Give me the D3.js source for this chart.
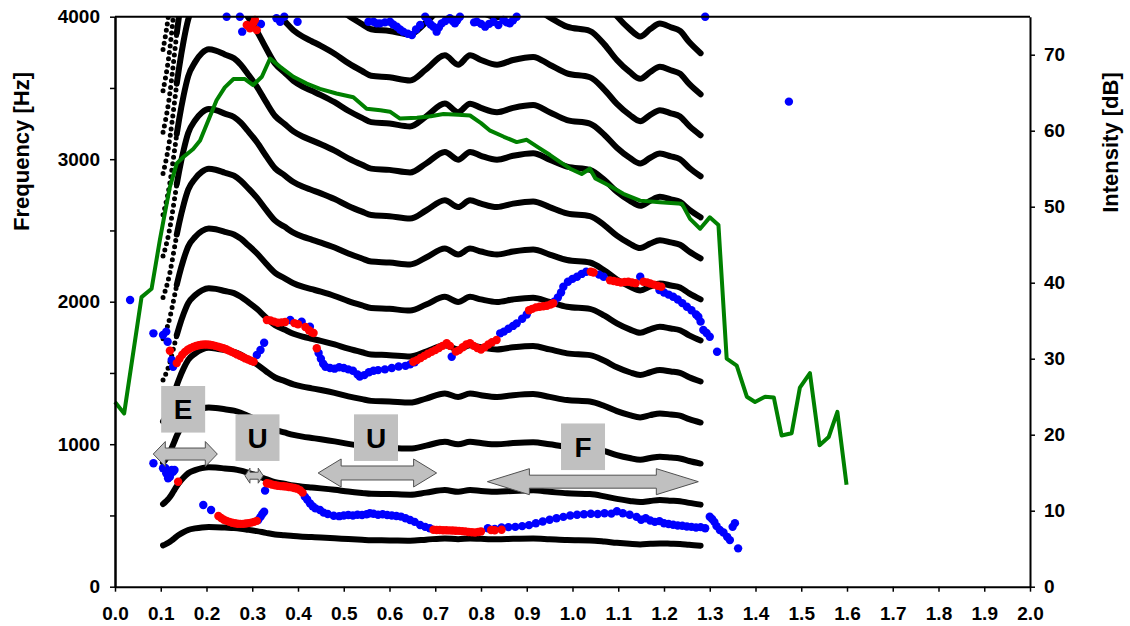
<!DOCTYPE html>
<html>
<head>
<meta charset="utf-8">
<script src="https://cdn.jsdelivr.net/npm/d3@7"></script>
<style>
  body { margin: 0; background: #fff; }
  text { font-family: "Liberation Sans", Arial, sans-serif; font-weight: bold; fill: #000; }
</style>
</head>
<body>
<svg id="chart" width="1130" height="626"></svg>
<script>
// ---- axis ticks ----
const timeTicks = [0.0, 0.1, 0.2, 0.3, 0.4, 0.5, 0.6, 0.7, 0.8, 0.9, 1.0, 1.1, 1.2, 1.3, 1.4, 1.5, 1.6, 1.7, 1.8, 1.9, 2.0];
const freqTicks = [0, 1000, 2000, 3000, 4000];
const freqMinorTicks = [500, 1500, 2500, 3500];
const dbTicks = [0, 10, 20, 30, 40, 50, 60, 70];

// ---- fundamental frequency (s, Hz); harmonic k is drawn at k * f0 ----
const f0Time = [0.105, 0.110, 0.115, 0.120, 0.125, 0.130, 0.135, 0.140, 0.150, 0.160, 0.175, 0.190, 0.205, 0.220, 0.240, 0.260, 0.275, 0.290, 0.310, 0.330, 0.350, 0.370, 0.390, 0.410, 0.430, 0.450, 0.480, 0.510, 0.540, 0.560, 0.600, 0.645, 0.680, 0.721, 0.750, 0.776, 0.800, 0.835, 0.870, 0.914, 0.950, 0.988, 1.038, 1.070, 1.097, 1.125, 1.148, 1.170, 1.191, 1.215, 1.235, 1.255, 1.280];
const f0Hz   = [290, 297, 305, 315, 327, 340, 353, 364, 383, 398, 409, 416, 419, 418, 415, 412, 407, 400, 390, 378, 367, 361, 355, 351, 348, 345, 340, 334, 329, 326, 325, 323, 330, 339, 333, 339, 336, 333, 336, 338, 333, 327.5, 325, 317, 308, 301, 297, 301, 304, 302, 300, 294, 288];
const harmonicNumbers = [1, 2, 3, 4, 5, 6, 7, 8, 9, 10, 11, 12, 13];
const onsetEnd = 0.135;         // steep onset, shown as separated samples
const firstDottedHarmonic = 5;

// ---- intensity (s, dB) ----
const intensity = [
  [0.000, 24.3], [0.020, 22.8], [0.058, 38.1], [0.080, 39.2], [0.098, 45.6], [0.106, 48.2], [0.120, 52.6],
  [0.135, 55.7], [0.149, 56.5], [0.171, 57.6], [0.186, 58.7], [0.205, 61.5], [0.222, 64.0], [0.240, 65.7],
  [0.259, 66.8], [0.284, 66.8], [0.302, 66.0], [0.321, 67.1], [0.339, 69.5], [0.361, 68.4], [0.390, 67.1],
  [0.419, 66.2], [0.448, 65.5], [0.484, 64.9], [0.521, 64.4], [0.550, 62.9], [0.580, 62.7], [0.601, 62.5],
  [0.623, 61.6], [0.660, 61.7], [0.690, 61.9], [0.718, 62.2], [0.750, 62.1], [0.776, 62.0], [0.800, 61.0],
  [0.820, 60.0], [0.850, 59.2], [0.878, 58.5], [0.900, 58.8], [0.925, 57.8], [0.951, 56.8], [0.975, 55.8],
  [0.995, 55.0], [1.020, 54.3], [1.038, 55.0], [1.050, 53.7], [1.080, 52.8], [1.111, 51.7], [1.148, 50.8],
  [1.191, 50.6], [1.239, 50.4], [1.257, 48.4], [1.279, 47.1], [1.300, 48.6], [1.319, 47.6], [1.337, 30.0],
  [1.359, 29.1], [1.381, 25.0], [1.399, 24.3], [1.421, 25.0], [1.440, 24.9], [1.457, 19.9], [1.479, 20.2],
  [1.497, 26.2], [1.519, 28.1], [1.540, 18.6], [1.560, 19.7], [1.579, 23.0], [1.599, 13.4]
];

// ---- formant estimates (s, Hz) ----
const blueTrack = [
  [0.033, 2012], [1.473, 3404],
  [0.084, 866], [0.105, 831], [0.110, 833], [0.112, 796], [0.116, 761], [0.120, 772], [0.124, 819], [0.127, 807], [0.130, 819],
  [0.193, 573], [0.210, 538],
  [0.313, 468], [0.318, 490], [0.322, 510], [0.326, 526], [0.328, 674],
  [0.415, 632], [0.420, 612], [0.426, 585], [0.432, 565], [0.438, 550], [0.448, 538], [0.456, 520], [0.465, 510],
  [0.478, 498], [0.490, 495], [0.500, 500], [0.510, 503], [0.520, 500], [0.530, 505], [0.540, 503], [0.550, 508],
  [0.557, 515], [0.565, 512], [0.575, 505], [0.585, 508], [0.595, 503], [0.605, 500], [0.615, 496], [0.625, 492],
  [0.635, 480], [0.645, 468], [0.655, 455], [0.667, 433], [0.678, 420], [0.688, 410],
  [0.815, 410], [0.830, 405], [0.845, 415], [0.860, 418], [0.875, 420], [0.890, 425], [0.905, 432], [0.920, 445],
  [0.935, 458], [0.950, 470], [0.965, 480], [0.980, 490], [0.995, 500], [1.010, 505], [1.025, 508], [1.040, 512],
  [1.055, 510], [1.070, 515], [1.085, 513], [1.097, 530], [1.110, 515], [1.125, 505], [1.140, 490], [1.150, 470],
  [1.160, 480], [1.170, 465], [1.180, 455], [1.190, 460], [1.200, 445], [1.210, 440], [1.220, 435], [1.230, 430],
  [1.240, 428], [1.250, 422], [1.260, 420], [1.270, 415], [1.280, 418], [1.290, 410], [1.300, 491], [1.305, 475],
  [1.310, 455], [1.315, 425], [1.322, 398], [1.330, 380], [1.338, 350], [1.344, 327], [1.350, 420], [1.355, 446], [1.362, 269],
  [0.084, 1778], [0.105, 1766], [0.112, 1790], [0.115, 1719], [0.124, 1591], [0.127, 1544],
  [0.310, 1626], [0.318, 1661], [0.326, 1712],
  [0.383, 1872], [0.408, 1860], [0.426, 1825],
  [0.445, 1640], [0.450, 1600], [0.455, 1565], [0.460, 1544], [0.470, 1535], [0.480, 1530], [0.490, 1540],
  [0.500, 1535], [0.510, 1525], [0.520, 1515], [0.530, 1490], [0.535, 1474], [0.545, 1485], [0.555, 1505],
  [0.565, 1515], [0.575, 1520], [0.590, 1525], [0.605, 1535], [0.620, 1545], [0.635, 1550], [0.645, 1560], [0.655, 1575],
  [0.736, 1614],
  [0.842, 1778], [0.850, 1790], [0.860, 1810], [0.870, 1830], [0.878, 1848], [0.890, 1880], [0.900, 1910],
  [0.960, 2000], [0.968, 2030], [0.975, 2065], [0.980, 2105], [0.990, 2140], [1.000, 2160], [1.010, 2175],
  [1.020, 2195], [1.030, 2210], [1.058, 2190], [1.068, 2175], [1.148, 2175],
  [1.190, 2082], [1.200, 2065], [1.210, 2050], [1.220, 2035], [1.230, 2015], [1.240, 1990], [1.250, 1965],
  [1.260, 1940], [1.270, 1910], [1.275, 1895], [1.280, 1860], [1.286, 1801], [1.293, 1780], [1.300, 1754], [1.316, 1649],
  [0.244, 4000], [0.273, 4000], [0.278, 3895], [0.319, 3949], [0.353, 3989], [0.361, 3965], [0.370, 4000], [0.399, 3965],
  [0.554, 3965], [0.565, 3965], [0.572, 3953], [0.579, 3953], [0.590, 3960], [0.601, 3965], [0.608, 3945], [0.616, 3930],
  [0.623, 3910], [0.630, 3895], [0.640, 3880], [0.649, 3871], [0.658, 3910], [0.667, 3942], [0.678, 4000], [0.685, 3965],
  [0.690, 3945], [0.696, 3930], [0.703, 3895], [0.708, 3925], [0.714, 3953], [0.722, 3970], [0.732, 3989], [0.738, 3970],
  [0.743, 3953], [0.748, 3975], [0.754, 4000], [0.785, 3960], [0.791, 3965], [0.800, 3950], [0.809, 3930], [0.818, 3950],
  [0.827, 3965], [0.838, 3942], [0.849, 3977], [0.856, 3960], [0.863, 3953], [0.870, 3975], [0.878, 4000], [1.290, 4000]
];
const redTrack = [
  [0.120, 1656], [0.138, 737],
  [0.135, 1569], [0.141, 1600], [0.147, 1628], [0.153, 1648], [0.159, 1663], [0.165, 1674], [0.171, 1682], [0.177, 1689],
  [0.183, 1694], [0.189, 1698], [0.195, 1700], [0.201, 1700], [0.207, 1698], [0.213, 1695], [0.219, 1690], [0.225, 1685],
  [0.231, 1679], [0.237, 1673], [0.243, 1666], [0.249, 1657], [0.255, 1648], [0.261, 1639], [0.267, 1630], [0.273, 1621],
  [0.279, 1612], [0.285, 1602], [0.291, 1594], [0.297, 1586], [0.303, 1579],
  [0.226, 496], [0.232, 482], [0.238, 470], [0.244, 462], [0.250, 455], [0.256, 449], [0.262, 445], [0.268, 442],
  [0.274, 441], [0.280, 441], [0.286, 443], [0.292, 446], [0.298, 450], [0.304, 455], [0.310, 462],
  [0.332, 726], [0.338, 722], [0.344, 716], [0.350, 712], [0.356, 708], [0.362, 706], [0.368, 705], [0.374, 703],
  [0.380, 700], [0.386, 697], [0.392, 693], [0.398, 688], [0.404, 678], [0.410, 660],
  [0.332, 1872], [0.340, 1868], [0.348, 1860], [0.356, 1852], [0.364, 1855], [0.372, 1858], [0.392, 1850], [0.400, 1842],
  [0.416, 1822], [0.424, 1800], [0.430, 1785], [0.434, 1780], [0.441, 1673],
  [0.652, 1579], [0.660, 1590], [0.668, 1605], [0.676, 1620], [0.684, 1635], [0.692, 1648], [0.700, 1660], [0.708, 1675],
  [0.716, 1690], [0.725, 1708], [0.732, 1690], [0.745, 1650], [0.752, 1660], [0.760, 1680], [0.768, 1700], [0.776, 1708],
  [0.784, 1690], [0.792, 1675], [0.800, 1665], [0.808, 1680], [0.816, 1700], [0.824, 1715], [0.834, 1731],
  [0.696, 400], [0.703, 398], [0.710, 398], [0.717, 396], [0.724, 396], [0.731, 395], [0.738, 394], [0.745, 393],
  [0.752, 392], [0.759, 390], [0.766, 388], [0.773, 384], [0.780, 382], [0.787, 380], [0.794, 384], [0.800, 388],
  [0.822, 398], [0.830, 396], [0.845, 400],
  [0.905, 1940], [0.912, 1950], [0.920, 1960], [0.928, 1965], [0.936, 1968], [0.944, 1972], [0.952, 1980], [0.958, 1989],
  [1.040, 2210], [1.046, 2205], [1.082, 2150], [1.090, 2145], [1.098, 2140], [1.106, 2135], [1.114, 2138], [1.122, 2140],
  [1.130, 2135], [1.138, 2130], [1.155, 2140], [1.163, 2135], [1.170, 2128], [1.178, 2120], [1.186, 2112], [1.194, 2105],
  [0.288, 3942], [0.295, 3918], [0.302, 3953], [0.306, 3977], [0.310, 3906]
];

// ---- segment annotations ----
const segmentLabels = ["E", "U", "U", "F"];
const labelTime = [0.149, 0.3115, 0.5705, 1.023];
const labelFreq = [1245, 1046, 1046, 982];
const arrowFrom = [0.0837, 0.284, 0.444, 0.814];
const arrowTo   = [0.2236, 0.324, 0.703, 1.275];
const arrowFreq = [931, 779, 798, 737];

// ---- layout ----
const plotLeft = 115, plotRight = 1030, plotTop = 16.7, plotBottom = 586.7;
const svg = d3.select("#chart");

const x = d3.scaleLinear().domain([0, 2]).range([plotLeft, plotRight]);
const y = d3.scaleLinear().domain([0, 4000]).range([plotBottom, plotTop]);
const yDb = d3.scaleLinear().domain([0, 75]).range([plotBottom, plotTop]);

svg.append("defs").append("clipPath").attr("id", "plotClip")
  .append("rect").attr("x", plotLeft).attr("y", plotTop)
  .attr("width", plotRight - plotLeft).attr("height", plotBottom - plotTop);

// ---- harmonics ----
const harmonicLine = d3.line().x(d => x(d.t)).y(d => y(d.f)).curve(d3.curveMonotoneX);
const gHarm = svg.append("g").attr("clip-path", "url(#plotClip)");
harmonicNumbers.forEach(k => {
  const pts = f0Time.map((t, i) => ({ t, f: f0Hz[i] * k }));
  const dotted = k >= firstDottedHarmonic;
  const solidPts = dotted ? pts.filter(p => p.t >= onsetEnd) : pts;
  gHarm.append("path").attr("d", harmonicLine(solidPts))
    .attr("fill", "none").attr("stroke", "#000").attr("stroke-width", 6)
    .attr("stroke-linecap", "round").attr("stroke-linejoin", "round");
  if (dotted) {
    const onsetPts = pts.filter(p => p.t <= onsetEnd);
    gHarm.append("path").attr("d", harmonicLine(onsetPts))
      .attr("fill", "none").attr("stroke", "#000").attr("stroke-width", 5)
      .attr("stroke-dasharray", "0 6.5").attr("stroke-linecap", "round");
  }
});

// ---- formant dots ----
svg.append("g").selectAll("circle").data(blueTrack).join("circle")
  .attr("cx", d => x(d[0])).attr("cy", d => y(d[1])).attr("r", 4.2).attr("fill", "#0000ff");
svg.append("g").selectAll("circle").data(redTrack).join("circle")
  .attr("cx", d => x(d[0])).attr("cy", d => y(d[1])).attr("r", 4.2).attr("fill", "#ff0000");

// ---- intensity curve ----
svg.append("path")
  .attr("d", d3.line().x(d => x(d[0])).y(d => yDb(d[1]))(intensity))
  .attr("fill", "none").attr("stroke", "#008000").attr("stroke-width", 4)
  .attr("stroke-linejoin", "round").attr("stroke-linecap", "butt");

// ---- axes ----
function styleAxis(g) {
  g.selectAll(".domain").attr("stroke", "#000").attr("stroke-width", 2);
  g.selectAll(".tick line").attr("stroke", "#000").attr("stroke-width", 1.5);
  g.selectAll(".tick text").style("font-size", "19px").attr("fill", "#000");
}
svg.append("g").attr("transform", `translate(0,${plotBottom})`)
  .call(d3.axisBottom(x).tickValues(timeTicks).tickFormat(d3.format(".1f")).tickSize(5).tickPadding(15).tickSizeOuter(0))
  .call(styleAxis);
svg.append("g").attr("transform", `translate(${plotLeft},0)`)
  .call(d3.axisLeft(y).tickValues(freqMinorTicks).tickFormat("").tickSize(5).tickSizeOuter(0))
  .call(styleAxis);
svg.append("g").attr("transform", `translate(${plotLeft},0)`)
  .call(d3.axisLeft(y).tickValues(freqTicks).tickFormat(d3.format("d")).tickSize(5).tickPadding(10).tickSizeOuter(0))
  .call(styleAxis);
svg.append("g").attr("transform", `translate(${plotRight},0)`)
  .call(d3.axisRight(yDb).tickValues(dbTicks).tickFormat(d3.format("d")).tickSize(5).tickPadding(9).tickSizeOuter(0))
  .call(styleAxis);
svg.append("line").attr("x1", plotLeft).attr("x2", plotRight).attr("y1", plotTop).attr("y2", plotTop)
  .attr("stroke", "#000").attr("stroke-width", 2);

// ---- annotation arrows and labels ----
const arrowHeadLen = [12, 5, 23, 42];
const arrowHeadHalf = [12.5, 7.5, 14, 13];
const arrowShaftHalf = [6, 3.5, 7, 6.5];
function doubleArrow(x0, x1, yc, hl, hh, sh) {
  return `M${x0},${yc} L${x0 + hl},${yc - hh} L${x0 + hl},${yc - sh} L${x1 - hl},${yc - sh} L${x1 - hl},${yc - hh}
          L${x1},${yc} L${x1 - hl},${yc + hh} L${x1 - hl},${yc + sh} L${x0 + hl},${yc + sh} L${x0 + hl},${yc + hh} Z`;
}
const gAnno = svg.append("g");
arrowFrom.forEach((t0, i) => {
  gAnno.append("path")
    .attr("d", doubleArrow(x(t0), x(arrowTo[i]), y(arrowFreq[i]), arrowHeadLen[i], arrowHeadHalf[i], arrowShaftHalf[i]))
    .attr("fill", "#c0c0c0").attr("stroke", "#505050").attr("stroke-width", 1);
});
segmentLabels.forEach((lab, i) => {
  const cx = x(labelTime[i]), cy = y(labelFreq[i]);
  gAnno.append("rect").attr("x", cx - 22).attr("y", cy - 23.3).attr("width", 44).attr("height", 46.6)
    .attr("fill", "#c0c0c0");
  gAnno.append("text").attr("x", cx).attr("y", cy).attr("dy", "0.36em")
    .attr("text-anchor", "middle").style("font-size", "28px").text(lab);
});

// ---- axis titles ----
svg.append("text").attr("transform", "translate(29,151.5) rotate(-90)")
  .attr("text-anchor", "middle").style("font-size", "22px").text("Frequency [Hz]");
svg.append("text").attr("transform", "translate(1117.5,142.5) rotate(-90)")
  .attr("text-anchor", "middle").style("font-size", "22px").text("Intensity [dB]");
</script>
</body>
</html>
